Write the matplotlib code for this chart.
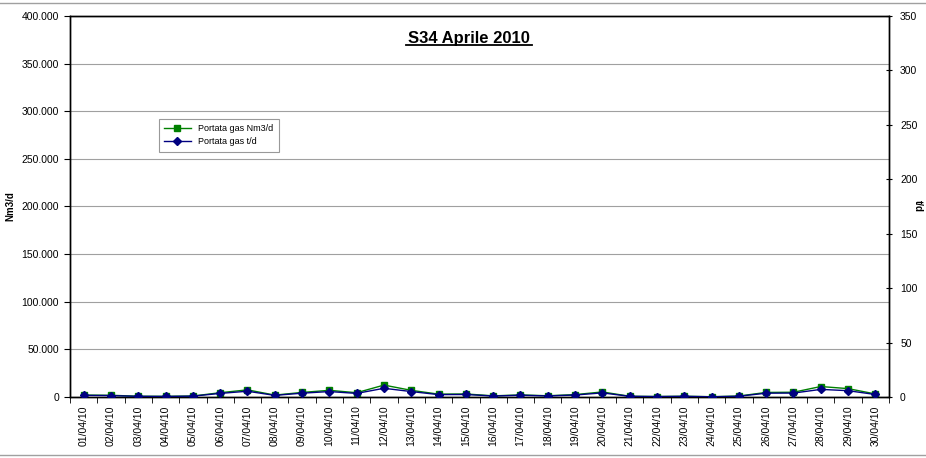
import matplotlib.pyplot as plt
from matplotlib.ticker import FuncFormatter, MultipleLocator
from matplotlib.lines import Line2D

plt.rcParams['font.family'] = ['Liberation Sans', 'DejaVu Sans']

giorni = ['%02d/04/10' % d for d in range(1, 31)]
portata_nm3 = [2000, 1800, 800, 700, 1000, 4500, 7500, 2000, 4800, 7000,
               4500, 12500, 7000, 3000, 3200, 1200, 2200, 1300, 2500, 5300,
               800, 500, 800, 300, 1000, 4800, 5000, 11000, 8800, 3200]
portata_t = [1.5, 1.3, 0.6, 0.5, 0.8, 3.3, 5.3, 1.5, 3.5, 5.0,
             3.3, 8.0, 5.0, 2.2, 2.3, 0.9, 1.6, 1.0, 1.8, 3.8,
             0.6, 0.4, 0.6, 0.2, 0.7, 3.5, 3.6, 7.0, 5.8, 2.3]

fig = plt.figure(figsize=(9.26, 4.58), dpi=100)
ax = fig.add_axes([70/926, 1-397/458, 819/926, 381/458])
ax2 = ax.twinx()

x = list(range(len(giorni)))
ax.plot(x, portata_nm3, color='#008000', marker='s', markersize=5, lw=1, zorder=3)
ax2.plot(x, portata_t, color='#000080', marker='D', markersize=4, lw=1, zorder=4)

ax.set_xlim(-0.5, 29.5)
ax.set_ylim(0, 400000)
ax2.set_ylim(0, 350)
ax.yaxis.set_major_locator(MultipleLocator(50000))
ax2.yaxis.set_major_locator(MultipleLocator(50))
ax.yaxis.set_major_formatter(FuncFormatter(lambda v, p: '{:,.0f}'.format(v).replace(',', '.')))
ax.grid(axis='y', color='#a0a0a0', lw=0.8)
ax.set_axisbelow(True)

ax.set_xticks(x)
ax.set_xticklabels(giorni, rotation=90, fontsize=7.5)
ax.tick_params(axis='x', length=0, pad=6)
ax.set_xticks([i + 0.5 for i in range(-1, 30)], minor=True)
ax.tick_params(axis='x', which='minor', length=4, direction='out')
ax.tick_params(axis='y', labelsize=7.5, length=4, direction='out', pad=4)
ax2.tick_params(axis='y', labelsize=7.5, length=4, direction='inout', pad=6)

for a in (ax, ax2):
    for s in a.spines.values():
        s.set_color('black')
        s.set_linewidth(1)

fig.text(10/926, 1-206/458, 'Nm3/d', fontsize=7, fontweight='bold', rotation=90,
         ha='center', va='center')
fig.text(918/926, 1-206/458, 't/d', fontsize=7, fontweight='bold', rotation=-90,
         ha='center', va='center')

ax.text(0.487, 0.942, 'S34 Aprile 2010', transform=ax.transAxes, ha='center',
        fontsize=12, fontweight='bold', va='center')
ax.plot([0.410, 0.564], [0.924, 0.924], transform=ax.transAxes, color='black', lw=1.3, clip_on=False)

handles = [Line2D([], [], color='#008000', marker='s', markersize=5, lw=1),
           Line2D([], [], color='#000080', marker='D', markersize=4, lw=1)]
leg = ax.legend(handles, ['Portata gas Nm3/d', 'Portata gas t/d'], loc='upper left',
                bbox_to_anchor=(84/819, 1-98/381), fontsize=6.5, frameon=True, fancybox=False,
                edgecolor='#808080', borderpad=0.6, handlelength=3)
leg.get_frame().set_linewidth(0.8)

fig.add_artist(Line2D([0, 1], [1-3/458, 1-3/458], color='#a0a0a0', lw=1))
fig.add_artist(Line2D([0, 1], [3/458, 3/458], color='#a0a0a0', lw=1))

fig.savefig('out.png', dpi=100)
